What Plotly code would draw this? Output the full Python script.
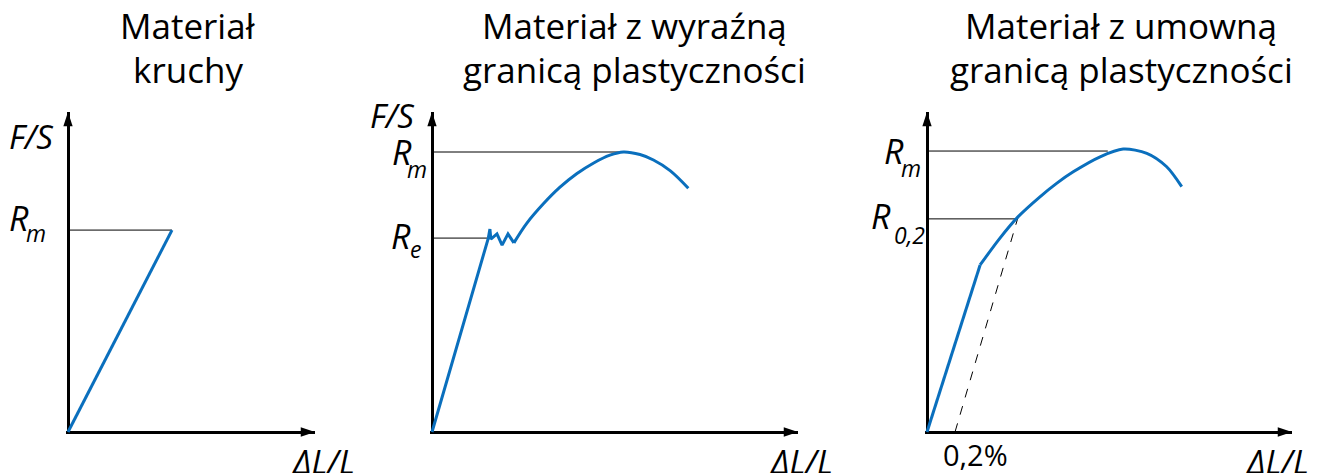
import plotly.graph_objects as go

# ---------------- data (arbitrary units: strain ΔL/L, stress F/S) ----------------
# Panel 1 – brittle material
brittle_x = [0, 32.5]
brittle_y = [0, 63.1]
brittle_Rm = 63.1

# Panel 2 – material with distinct yield point
yield_lin_x = [0, 17.6, 18.1, 18.4, 20.3, 21.9, 23.75, 25.6]
yield_lin_y = [0, 60.6, 63.4, 60.3, 61.9, 58.4, 61.9, 59.1]
yield_cur_x = [25.6, 29.6, 34.8, 40.0, 45.2, 50.4, 55.6, 59.8, 65.0, 69.2, 74.4, 80.1]
yield_cur_y = [59.1, 65.2, 71.3, 76.5, 80.7, 84.0, 86.5, 87.5, 86.7, 85.0, 81.7, 76.2]
yield_Rm, yield_Rm_x = 87.5, 59.0
yield_Re, yield_Re_x = 60.6, 17.6

# Panel 3 – material with proof (offset) yield strength
proof_lin_x = [0, 16.6]
proof_lin_y = [0, 52.2]
proof_cur_x = [16.6, 22.5, 28.5, 35.3, 40.5, 45.7, 54.1, 61.3, 68.7, 74.9, 79.6]
proof_cur_y = [52.2, 60.2, 67.3, 73.5, 77.7, 81.3, 86.0, 88.4, 87.1, 82.9, 76.7]
proof_Rm, proof_Rm_x = 87.8, 56.5
proof_R02, proof_R02_x = 66.6, 28.1
offset_x = [8.75, 28.5]
offset_y = [0, 67.3]
offset_label_x = 15.0

title_lines = [["Materiał", "kruchy"],
               ["Materiał z wyraźną", "granicą plastyczności"],
               ["Materiał z umowną", "granicą plastyczności"]]
title_cx = [188, 634, 1121]

# ---------------- layout geometry ----------------
W, H = 1321, 473
SCALE = 3.2          # px per unit
ORIG_Y = 432
TOP_Y = 112
origins = [68, 432, 927]
tips = [315, 798, 1292]
PAD = 0.6
YMAX = (ORIG_Y - TOP_Y) / SCALE

BLUE = "#0a6fbd"
FONT = "Open Sans"
TFS = 35   # title font size
LFS = 33   # axis label font size
RFS = 34   # R symbol size
SFS = 23   # subscript size

fig = go.Figure()
layout = dict(width=W, height=H, margin=dict(l=0, r=0, t=0, b=0),
              paper_bgcolor="white", plot_bgcolor="white", showlegend=False,
              font=dict(family=FONT, color="black"))
annotations = []

def txt(text, x, y, xref, yref, size, xanchor="center", yanchor="middle", xshift=0, yshift=0):
    annotations.append(dict(text=text, x=x, y=y, xref=xref, yref=yref, xanchor=xanchor,
                            yanchor=yanchor, showarrow=False, xshift=xshift, yshift=yshift,
                            font=dict(size=size, family=FONT, color="black")))

for i in range(3):
    n = "" if i == 0 else str(i + 1)
    ox, tx = origins[i], tips[i]
    xmax = (tx - ox) / SCALE
    layout["xaxis" + n] = dict(domain=[(ox - PAD * SCALE) / W, tx / W], range=[-PAD, xmax],
                               anchor="y" + n, showgrid=False, showticklabels=False,
                               ticks="", zeroline=True, zerolinewidth=3, zerolinecolor="black",
                               showline=False, fixedrange=True)
    layout["yaxis" + n] = dict(domain=[(H - ORIG_Y - PAD * SCALE) / H, (H - TOP_Y) / H],
                               range=[-PAD, YMAX], anchor="x" + n, showgrid=False,
                               showticklabels=False, ticks="", zeroline=True, zerolinewidth=3,
                               zerolinecolor="black", showline=False, fixedrange=True)
    xa, ya = "x" + n, "y" + n
    # arrow heads
    fig.add_trace(go.Scatter(x=[xmax], y=[0], xaxis=xa, yaxis=ya, mode="markers",
                             marker=dict(symbol="arrow", angle=90, size=15, color="black",
                                         line=dict(width=0)), cliponaxis=False, hoverinfo="skip"))
    fig.add_trace(go.Scatter(x=[0], y=[YMAX], xaxis=xa, yaxis=ya, mode="markers",
                             marker=dict(symbol="arrow", angle=0, size=15, color="black",
                                         line=dict(width=0)), cliponaxis=False, hoverinfo="skip"))
    # two-line titles
    txt(title_lines[i][0], title_cx[i] / W, 1 - 26 / H, "paper", "paper", TFS)
    txt(title_lines[i][1], title_cx[i] / W, 1 - 69 / H, "paper", "paper", TFS)
    # axis names
    txt("<i>ΔL/L</i>", xmax, 0, xa, ya, LFS, xshift=[8, 3, -15][i], yshift=-29)
    fs_y = [(ORIG_Y - 136) / SCALE, (ORIG_Y - 115) / SCALE, (ORIG_Y - 101) / SCALE][i]
    txt("<i>F/S</i>", 0, fs_y, xa, ya, LFS, xshift=[-37, -40, -47][i])

def ref_line(xa, ya, xe, yv):
    fig.add_trace(go.Scatter(x=[0, xe], y=[yv, yv], xaxis=xa, yaxis=ya, mode="lines",
                             line=dict(color="black", width=1), hoverinfo="skip"))

def label(xa, ya, yv, sub, rx, ry, sx, sy):
    txt("<i>R</i>", 0, yv, xa, ya, RFS, xshift=rx, yshift=ry)
    txt(f"<i>{sub}</i>", 0, yv, xa, ya, SFS, xshift=sx, yshift=sy)

# Panel 1
ref_line("x", "y", brittle_x[-1], brittle_Rm)
fig.add_trace(go.Scatter(x=brittle_x, y=brittle_y, xaxis="x", yaxis="y", mode="lines",
                         line=dict(color=BLUE, width=3), hoverinfo="skip"))
label("x", "y", brittle_Rm, "m", -49, 12, -32, -3)

# Panel 2
ref_line("x2", "y2", yield_Rm_x, yield_Rm)
ref_line("x2", "y2", yield_Re_x, yield_Re)
fig.add_trace(go.Scatter(x=yield_lin_x, y=yield_lin_y, xaxis="x2", yaxis="y2", mode="lines",
                         line=dict(color=BLUE, width=3), hoverinfo="skip"))
fig.add_trace(go.Scatter(x=yield_cur_x, y=yield_cur_y, xaxis="x2", yaxis="y2", mode="lines",
                         line=dict(color=BLUE, width=3, shape="spline"), hoverinfo="skip"))
label("x2", "y2", yield_Rm, "m", -30, 0, -15, -17)
label("x2", "y2", yield_Re, "e", -31, 2, -17, -11)

# Panel 3
ref_line("x3", "y3", proof_Rm_x, proof_Rm)
ref_line("x3", "y3", proof_R02_x, proof_R02)
fig.add_trace(go.Scatter(x=offset_x, y=offset_y, xaxis="x3", yaxis="y3", mode="lines",
                         line=dict(color="black", width=1, dash="dash"), hoverinfo="skip"))
fig.add_trace(go.Scatter(x=proof_lin_x, y=proof_lin_y, xaxis="x3", yaxis="y3", mode="lines",
                         line=dict(color=BLUE, width=3), hoverinfo="skip"))
fig.add_trace(go.Scatter(x=proof_cur_x, y=proof_cur_y, xaxis="x3", yaxis="y3", mode="lines",
                         line=dict(color=BLUE, width=3, shape="spline", smoothing=0.8),
                         hoverinfo="skip"))
label("x3", "y3", proof_Rm, "m", -33, 0, -16, -17)
label("x3", "y3", proof_R02, "0,2", -46, 3, -18, -16)
txt("0,2%", offset_label_x, 0, "x3", "y3", 29, yshift=-22)

layout["annotations"] = annotations
fig.update_layout(**layout)
fig.write_html("out.html", config={"displayModeBar": False})

# remove the default page margin so the figure sits at the window's top-left corner
with open("out.html", "r", encoding="utf-8") as fh:
    html = fh.read()
html = html.replace("<body>", '<body style="margin:0;overflow:hidden">', 1)
with open("out.html", "w", encoding="utf-8") as fh:
    fh.write(html)
